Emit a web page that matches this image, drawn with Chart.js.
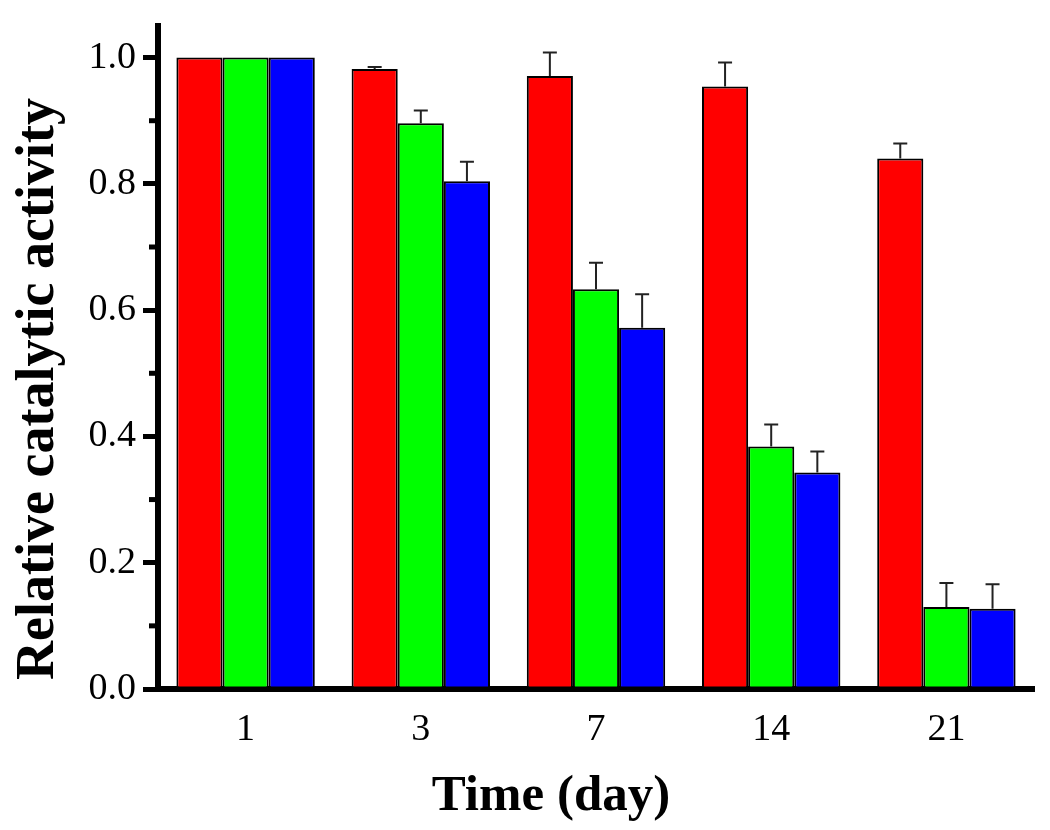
<!DOCTYPE html>
<html>
<head>
<meta charset="utf-8">
<script src="https://cdn.jsdelivr.net/npm/chart.js@4/dist/chart.umd.min.js"></script>
<style>
  html, body { margin: 0; padding: 0; background: #fff; }
  #wrap { width: 1050px; height: 830px; position: relative; }
</style>
</head>
<body>
<div id="wrap"><canvas id="c" width="1050" height="830"></canvas></div>
<script>
// ---- data ----
const categories = ['1', '3', '7', '14', '21'];
const seriesRed   = [1.000, 0.982, 0.971, 0.954, 0.840];
const seriesGreen = [1.000, 0.896, 0.633, 0.384, 0.130];
const seriesBlue  = [1.000, 0.804, 0.572, 0.343, 0.127];
const errRed   = [0, 0.003, 0.037, 0.038, 0.024];
const errGreen = [0, 0.020, 0.042, 0.035, 0.038];
const errBlue  = [0, 0.031, 0.053, 0.033, 0.039];
const yTickValues  = [0.0, 0.2, 0.4, 0.6, 0.8, 1.0];
const yMinorValues = [0.1, 0.3, 0.5, 0.7, 0.9];
const xTitle = 'Time (day)';
const yTitle = 'Relative catalytic activity';

const FONT = '"Liberation Serif", "Times New Roman", serif';

const errorBarPlugin = {
  id: 'errorBars',
  afterDatasetsDraw(chart) {
    const ctx = chart.ctx;
    const ys = chart.scales.y;
    chart.data.datasets.forEach((ds, i) => {
      const meta = chart.getDatasetMeta(i);
      meta.data.forEach((el, j) => {
        const e = ds.errors[j];
        if (!e) return;
        const top = ys.getPixelForValue(ds.data[j] + e);
        ctx.save();
        ctx.strokeStyle = '#222';
        ctx.lineWidth = 2;
        ctx.beginPath();
        ctx.moveTo(el.x, el.y);
        ctx.lineTo(el.x, top);
        ctx.moveTo(el.x - 7, top);
        ctx.lineTo(el.x + 7, top);
        ctx.stroke();
        ctx.restore();
      });
    });
  }
};

const axisExtrasPlugin = {
  id: 'axisExtras',
  afterDraw(chart) {
    const ctx = chart.ctx;
    const ys = chart.scales.y;
    const area = chart.chartArea;
    ctx.save();
    ctx.strokeStyle = '#000';
    ctx.lineWidth = 5;
    yMinorValues.forEach(v => {
      const py = ys.getPixelForValue(v);
      ctx.beginPath();
      ctx.moveTo(area.left - 9, py);
      ctx.lineTo(area.left - 2, py);
      ctx.stroke();
    });
    // axis titles
    ctx.fillStyle = '#000';
    ctx.font = 'bold 51px ' + FONT;
    ctx.textAlign = 'center';
    ctx.textBaseline = 'alphabetic';
    ctx.fillText(xTitle, 551, 810);
    ctx.translate(53, 389);
    ctx.rotate(-Math.PI / 2);
    ctx.font = 'bold 54px ' + FONT;
    ctx.fillText(yTitle, 0, 0);
    ctx.restore();
  }
};

new Chart(document.getElementById('c'), {
  type: 'bar',
  data: {
    labels: categories,
    datasets: [
      { label: 'Red',   data: seriesRed,   errors: errRed,   backgroundColor: '#FF0000' },
      { label: 'Green', data: seriesGreen, errors: errGreen, backgroundColor: '#00FF00' },
      { label: 'Blue',  data: seriesBlue,  errors: errBlue,  backgroundColor: '#0000FF' }
    ]
  },
  options: {
    responsive: false,
    animation: false,
    devicePixelRatio: 1,
    layout: { padding: { top: 26, right: 16, left: 0, bottom: 0 } },
    datasets: {
      bar: {
        borderColor: '#000',
        borderWidth: 2,
        borderSkipped: false,
        categoryPercentage: 0.79,
        barPercentage: 1.0
      }
    },
    plugins: {
      legend: { display: false },
      tooltip: { enabled: false }
    },
    scales: {
      x: {
        z: 1,
        offset: true,
        grid: { display: true, drawOnChartArea: false, drawTicks: false },
        border: { display: true, color: '#000', width: 6 },
        ticks: {
          color: '#000',
          font: { family: FONT, size: 38 },
          padding: 18,
          maxRotation: 0
        },
        afterFit(s) { s.height = 141; s.paddingLeft = 0; s.paddingRight = 0; }
      },
      y: {
        min: 0,
        max: 1.05,
        grid: { display: true, drawOnChartArea: false, drawTicks: true, tickLength: 15, tickWidth: 5, tickColor: '#000' },
        border: { display: true, color: '#000', width: 6 },
        ticks: {
          color: '#000',
          font: { family: FONT, size: 38 },
          padding: 7,
          callback: v => Number(v).toFixed(1)
        },
        afterBuildTicks(s) { s.ticks = yTickValues.map(v => ({ value: v })); },
        afterFit(s) { s.width = 158; s.paddingTop = 0; s.paddingBottom = 0; }
      }
    }
  },
  plugins: [errorBarPlugin, axisExtrasPlugin]
});
</script>
</body>
</html>
